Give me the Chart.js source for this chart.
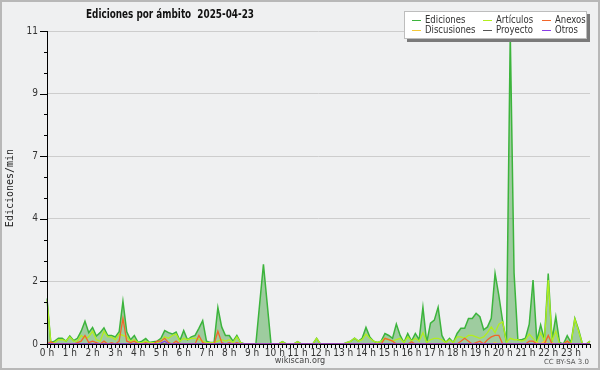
<!DOCTYPE html>
<html>
<head>
<meta charset="utf-8">
<script src="https://cdn.jsdelivr.net/npm/chart.js@4.4.1/dist/chart.umd.min.js"></script>
<style>
	html, body { margin: 0; padding: 0; background: #eff0f1; }
	canvas { display: block; }
</style>
</head>
<body>
<canvas id="chart" width="600" height="370"></canvas>
<script>
// one slot every 10 minutes, 00:00 .. 23:50
const slots = [];
for (let h = 0; h < 24; h++) {
	for (let m = 0; m < 60; m += 10) slots.push(h + ":" + (m < 10 ? "0" : "") + m);
}

const ediciones = [
	1.6, 0.05, 0.1, 0.2, 0.2, 0.1, 0.28, 0.12, 0.2, 0.45, 0.8, 0.4,
	0.58, 0.28, 0.4, 0.57, 0.3, 0.3, 0.25, 0.43, 1.5, 0.43, 0.15, 0.3,
	0.05, 0.1, 0.19, 0.05, 0.08, 0.1, 0.2, 0.47, 0.4, 0.35, 0.42, 0.12,
	0.47, 0.15, 0.25, 0.3, 0.55, 0.82, 0.1, 0.05, 0.05, 1.28, 0.6, 0.3,
	0.3, 0.1, 0.3, 0.05, 0, 0, 0, 0, 1.4, 2.8, 1.4, 0,
	0, 0, 0.08, 0, 0, 0, 0.08, 0, 0, 0, 0, 0.2,
	0, 0, 0, 0, 0, 0, 0, 0.05, 0.1, 0.2, 0.1, 0.2,
	0.58, 0.25, 0.1, 0.05, 0.1, 0.37, 0.3, 0.2, 0.7, 0.3, 0.05, 0.37,
	0.1, 0.37, 0.15, 1.29, 0.05, 0.73, 0.84, 1.29, 0.3, 0.05, 0.2, 0.05,
	0.37, 0.55, 0.55, 0.9, 0.9, 1.08, 0.96, 0.5, 0.6, 0.9, 2.48, 1.7,
	0.8, 0.05, 10.9, 2.5, 0.15, 0.15, 0.2, 0.7, 2.25, 0.1, 0.67, 0.15,
	2.48, 0.15, 0.96, 0.05, 0, 0.29, 0.05, 0.9, 0.5, 0, 0, 0.1
];
const articulos = [
	1.55, 0.05, 0.05, 0.15, 0.15, 0.1, 0.25, 0.1, 0.1, 0.3, 0.2, 0.25,
	0.45, 0.15, 0.1, 0.45, 0.25, 0.25, 0.15, 0.35, 0.3, 0.25, 0.1, 0.15,
	0.05, 0.05, 0.1, 0.05, 0.05, 0.05, 0.1, 0.25, 0.2, 0.3, 0.35, 0.1,
	0.2, 0.15, 0.2, 0.2, 0.15, 0.1, 0.05, 0.05, 0.05, 0.1, 0.15, 0.1,
	0.15, 0.05, 0.25, 0.05, 0, 0, 0, 0, 0, 0, 0, 0,
	0, 0, 0.08, 0, 0, 0, 0.08, 0, 0, 0, 0, 0.2,
	0, 0, 0, 0, 0, 0, 0, 0.05, 0.1, 0.2, 0.1, 0.15,
	0.35, 0.2, 0.1, 0.05, 0.1, 0.2, 0.15, 0.1, 0.15, 0.2, 0.05, 0.25,
	0.1, 0.2, 0.1, 0.4, 0.05, 0.15, 0.2, 0.2, 0.15, 0.05, 0.15, 0.05,
	0.25, 0.25, 0.2, 0.3, 0.3, 0.25, 0.2, 0.25, 0.4, 0.6, 0.4, 0.7,
	0.78, 0.05, 0.2, 0.15, 0.15, 0.1, 0.15, 0.35, 0.2, 0.05, 0.4, 0.1,
	2.25, 0.1, 0.45, 0, 0, 0.1, 0, 0.88, 0.45, 0, 0, 0.1
];
const anexos = [
	0, 0.08, 0, 0, 0, 0, 0, 0, 0.05, 0.1, 0.3, 0.05,
	0.1, 0.05, 0, 0.1, 0, 0.05, 0, 0.1, 0.9, 0.1, 0.05, 0.1,
	0, 0, 0.05, 0, 0, 0.1, 0.1, 0.2, 0.05, 0, 0.1, 0,
	0, 0, 0, 0, 0.3, 0.05, 0, 0, 0, 0.45, 0.05, 0,
	0.05, 0, 0.05, 0, 0, 0, 0, 0, 0, 0, 0, 0,
	0, 0, 0, 0, 0, 0, 0, 0, 0, 0, 0, 0,
	0, 0, 0, 0, 0, 0, 0, 0, 0, 0, 0, 0,
	0, 0, 0, 0, 0, 0.2, 0.15, 0.1, 0, 0, 0, 0,
	0.08, 0, 0, 0, 0, 0, 0, 0, 0, 0, 0, 0,
	0, 0.1, 0.2, 0.1, 0, 0.05, 0.1, 0, 0.15, 0.25, 0.3, 0.3,
	0, 0, 0, 0, 0, 0, 0, 0.1, 0.1, 0, 0, 0,
	0.3, 0, 0, 0, 0, 0.1, 0, 0, 0, 0, 0, 0
];
const discusiones = [
	0, 0, 0, 0, 0, 0, 0, 0, 0, 0, 0, 0,
	0, 0, 0, 0, 0, 0, 0, 0, 0, 0, 0, 0,
	0, 0, 0, 0, 0, 0, 0, 0, 0, 0, 0, 0,
	0, 0, 0, 0, 0, 0, 0, 0, 0, 0, 0, 0,
	0, 0, 0, 0, 0, 0, 0, 0, 0, 0, 0, 0,
	0, 0, 0, 0, 0, 0, 0, 0, 0, 0, 0, 0,
	0, 0, 0, 0, 0, 0, 0, 0, 0, 0, 0, 0,
	0, 0, 0, 0, 0, 0, 0, 0, 0, 0, 0, 0,
	0, 0, 0, 0, 0, 0, 0, 0, 0, 0, 0, 0,
	0, 0, 0, 0, 0, 0, 0, 0, 0, 0, 0.05, 0,
	0, 0, 0, 0, 0, 0, 0, 0, 0, 0.05, 0, 0.1,
	0, 0.05, 0, 0, 0, 0, 0, 0, 0, 0, 0, 0
];
const proyecto = [
	0, 0, 0, 0, 0, 0, 0, 0, 0, 0, 0, 0,
	0, 0, 0, 0, 0, 0, 0, 0, 0, 0, 0, 0,
	0, 0, 0, 0, 0, 0, 0, 0, 0, 0, 0, 0,
	0, 0, 0, 0, 0, 0, 0, 0, 0, 0, 0, 0,
	0, 0, 0, 0, 0, 0, 0, 0, 0, 0, 0, 0,
	0, 0, 0, 0, 0, 0, 0, 0, 0, 0, 0, 0,
	0, 0, 0, 0, 0, 0, 0, 0, 0, 0, 0, 0,
	0, 0, 0, 0, 0, 0, 0, 0, 0, 0, 0, 0,
	0, 0, 0, 0, 0, 0, 0, 0, 0, 0, 0, 0,
	0, 0, 0, 0, 0, 0, 0, 0, 0, 0, 0, 0,
	0, 0, 0, 0, 0, 0, 0, 0, 0, 0, 0, 0,
	0, 0, 0, 0, 0, 0, 0, 0, 0, 0, 0, 0
];
const otros = [
	0, 0, 0, 0, 0, 0, 0, 0, 0, 0, 0, 0,
	0, 0, 0, 0, 0, 0, 0, 0, 0, 0, 0, 0,
	0, 0, 0, 0, 0, 0, 0.03, 0.1, 0, 0, 0, 0,
	0, 0, 0, 0, 0, 0, 0, 0, 0, 0, 0, 0,
	0, 0, 0, 0, 0, 0, 0, 0, 0, 0, 0, 0,
	0, 0, 0, 0, 0, 0, 0, 0, 0, 0, 0, 0,
	0, 0, 0, 0, 0, 0, 0, 0, 0, 0, 0, 0,
	0, 0, 0, 0, 0, 0, 0, 0, 0, 0, 0, 0,
	0, 0, 0, 0, 0, 0, 0, 0, 0, 0, 0, 0,
	0, 0, 0, 0, 0, 0, 0, 0, 0, 0, 0, 0,
	0, 0, 0, 0, 0, 0, 0, 0, 0, 0, 0, 0,
	0, 0, 0, 0, 0, 0, 0, 0, 0, 0, 0, 0
];

// y axis: labelled ticks every 2.2, two minor ticks in between
const yMax = 11;
const yTickLabels = ["0", "2", "4", "7", "9", "11"];

const series = [
	{ name: "Ediciones", data: ediciones, color: "#3cb43c", order: 6 },
	{ name: "Artículos", data: articulos, color: "#b2ee1e", order: 5 },
	{ name: "Anexos", data: anexos, color: "#f2662a", order: 2 },
	{ name: "Discusiones", data: discusiones, color: "#f4c838", order: 4 },
	{ name: "Proyecto", data: proyecto, color: "#555555", order: 3 },
	{ name: "Otros", data: otros, color: "#8a3ee6", order: 1 }
];
const legendOrder = ["Ediciones", "Artículos", "Anexos", "Discusiones", "Proyecto", "Otros"];

const FONT = "'DejaVu Sans Condensed', 'DejaVu Sans', sans-serif";

const decor = {
	id: "decor",
	beforeDraw(chart) {
		const c = chart.ctx;
		c.save();
		c.fillStyle = "#eff0f1";
		c.fillRect(0, 0, 600, 370);
		c.strokeStyle = "#b8b8b8";
		c.lineWidth = 2;
		c.strokeRect(1, 1, 598, 368);
		c.restore();
	},
	afterDatasetsDraw(chart) {
		const c = chart.ctx;
		const a = chart.chartArea;
		const y = chart.scales.y;
		c.save();
		c.strokeStyle = "#000";
		c.lineWidth = 1;
		c.beginPath();
		c.moveTo(a.left + 0.5, a.top);
		c.lineTo(a.left + 0.5, a.bottom + 1);
		c.moveTo(a.left, a.bottom + 0.5);
		c.lineTo(a.right, a.bottom + 0.5);
		y.ticks.forEach((t, k) => {
			const py = Math.round(y.getPixelForValue(t.value)) + 0.5;
			const len = k % 3 === 0 ? 7 : 3;
			c.moveTo(a.left - len, py);
			c.lineTo(a.left, py);
		});
		c.stroke();
		c.restore();
	},
	afterDraw(chart) {
		const c = chart.ctx;
		c.save();
		c.fillStyle = "#111";
		c.textBaseline = "middle";
		c.font = "bold 13px " + FONT;
		c.fillText("Ediciones por ámbito  2025-04-23", 86, 15, 168);

		// legend box with shadow
		c.fillStyle = "#7a7a7a";
		c.fillRect(407, 14, 183, 28);
		c.fillStyle = "#ffffff";
		c.fillRect(404, 11, 183, 28);
		c.strokeStyle = "#bdbdbd";
		c.lineWidth = 1;
		c.strokeRect(404.5, 11.5, 182, 27);

		const colX = [425, 496, 555];
		const rowY = [20, 30];
		c.font = "10.5px " + FONT;
		legendOrder.forEach((name, k) => {
			const s = series.find(d => d.name === name);
			const x = colX[k % 3], yy = rowY[Math.floor(k / 3)];
			c.strokeStyle = s.color;
			c.lineWidth = 1;
			c.beginPath();
			c.moveTo(x - 13, yy + 0.5);
			c.lineTo(x - 4, yy + 0.5);
			c.stroke();
			c.fillStyle = "#333";
			c.fillText(name, x, yy, c.measureText(name).width * 0.9);
		});

		// axis title
		c.save();
		c.translate(10, 188);
		c.rotate(-Math.PI / 2);
		c.textAlign = "center";
		c.fillStyle = "#222";
		c.font = "10px 'DejaVu Sans Mono', monospace";
		c.fillText("Ediciones/min", 0, 0);
		c.restore();

		c.textAlign = "center";
		c.fillStyle = "#444";
		c.font = "9px " + FONT;
		c.fillText("wikiscan.org", 300, 361);
		c.textAlign = "right";
		c.font = "7px 'DejaVu Sans', sans-serif";
		c.fillStyle = "#555";
		c.fillText("CC BY-SA 3.0", 589, 362);
		c.restore();
	}
};

new Chart("chart", {
	type: "line",
	data: {
		labels: slots,
		datasets: series.map(s => ({
			label: s.name,
			data: s.data,
			borderColor: s.color,
			backgroundColor: s.name === "Ediciones" ? "rgba(60,160,60,0.45)" : s.color,
			fill: s.name === "Ediciones" ? "origin" : false,
			borderWidth: s.name === "Ediciones" ? 1.5 : 1.3,
			pointRadius: 0,
			tension: 0,
			order: s.order
		}))
	},
	options: {
		responsive: false,
		animation: false,
		devicePixelRatio: 1,
		layout: { padding: { left: 0, top: 31, right: 10, bottom: 0 } },
		plugins: {
			legend: { display: false },
			title: { display: false },
			tooltip: { enabled: false }
		},
		scales: {
			x: {
				offset: false,
				border: { display: false },
				grid: {
					drawOnChartArea: false,
					drawTicks: true,
					tickLength: 4,
					tickColor: "#000",
					color: "#000",
					offset: false
				},
				ticks: {
					autoSkip: false,
					maxRotation: 0,
					minRotation: 0,
					padding: -1,
					color: "#333",
					font: { family: FONT, size: 10 },
					callback: (v, i) => (i % 6 === 0 ? (i / 6) + " h" : "")
				},
				afterFit(s) { s.height = 26; }
			},
			y: {
				min: 0,
				max: yMax,
				border: { display: false },
				afterBuildTicks(s) {
					const t = [];
					for (let k = 0; k <= 15; k++) t.push({ value: k * yMax / 15 });
					s.ticks = t;
				},
				grid: {
					drawTicks: false,
					color: ctx => (ctx.index % 3 === 0 && ctx.index > 0 ? "#cdcdcd" : "rgba(0,0,0,0)")
				},
				ticks: {
					autoSkip: false,
					padding: 9,
					color: "#333",
					font: { family: FONT, size: 10 },
					callback: (v, i) => (i % 3 === 0 ? yTickLabels[i / 3] : "")
				},
				afterFit(s) { s.width = 47; }
			}
		}
	},
	plugins: [decor]
});
</script>
</body>
</html>
